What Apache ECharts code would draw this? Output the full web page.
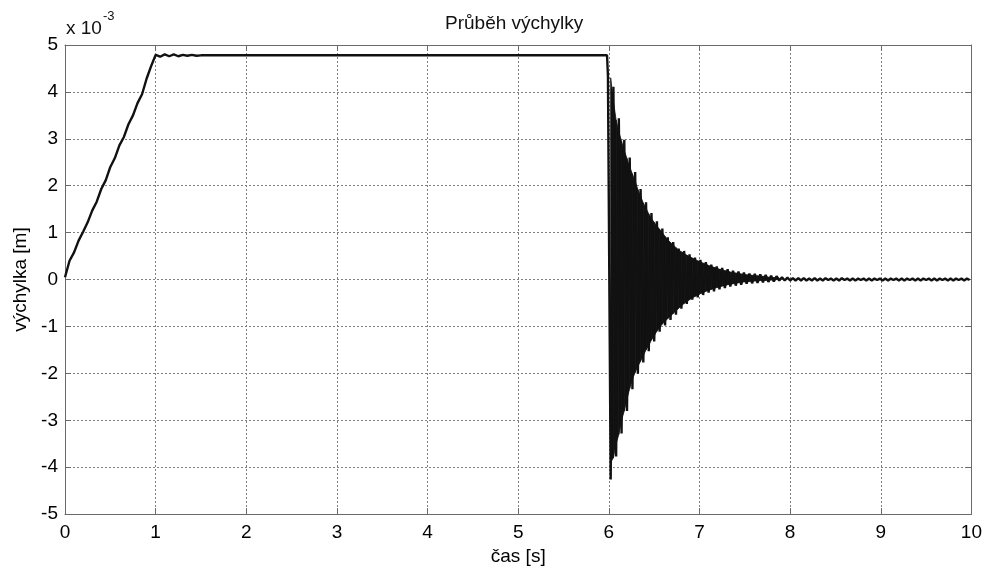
<!DOCTYPE html>
<html>
<head>
<meta charset="utf-8">
<script src="https://cdn.jsdelivr.net/npm/echarts@6/dist/echarts.min.js"></script>
<style>
html,body{margin:0;padding:0;background:#fff;}
#chart{width:985px;height:571px;}
</style>
</head>
<body>
<div id="chart"></div>
<script>
// ---- data (values in units of 1e-3 m) ----
const titleText = 'Průběh výchylky';
const xName = 'čas [s]';
const yName = 'výchylka [m]';
const xTicks = [0,1,2,3,4,5,6,7,8,9,10];
const yTicks = [-5,-4,-3,-2,-1,0,1,2,3,4,5];

// ramp 0 .. 1.0 s, step 0.05 s
const rampStart = 0, rampStep = 0.05;
const rampValues = [0.05,0.40,0.58,0.83,1.02,1.22,1.47,1.66,1.93,2.12,2.40,2.59,2.86,3.04,3.31,3.50,3.76,3.95,4.28,4.55,4.79];

// settling wiggle 1.05 .. 1.45 s, step 0.05 s
const settleStart = 1.05, settleStep = 0.05;
const settleValues = [4.75,4.80,4.76,4.80,4.76,4.79,4.77,4.79,4.77];

// hold until the release
const holdTimes = [1.5, 5.98, 5.99];
const holdValues = [4.78, 4.78, 4.33];

// decaying oscillation, peaks every 0.03 s from 6.02 s
const decayStart = 6.02, decayStep = 0.03;
const decayValues = [
 -4.26,4.11,-3.77,3.44,-3.28,2.98,-2.80,2.60,-2.34,2.29,
 -2.01,1.93,-1.77,1.65,-1.53,1.42,-1.32,1.24,-1.11,1.09,
 -0.98,0.90,-0.86,0.80,-0.75,0.66,-0.62,0.61,-0.52,0.54,
 -0.43,0.47,-0.38,0.42,-0.33,0.37,-0.28,0.32,-0.25,0.28,
 -0.21,0.25,-0.18,0.22,-0.15,0.19,-0.13,0.17,-0.11,0.15,
 -0.09,0.13,-0.08,0.12,-0.07,0.11,-0.06,0.10,-0.05,0.08,
 -0.04,0.07,-0.02
];

// solid (unresolved fast oscillation) band, same time grid as decayValues
const bandUpper = [
 4.30,3.80,3.40,3.15,2.95,2.75,2.58,2.40,2.25,2.10,
 1.92,1.78,1.63,1.52,1.40,1.30,1.22,1.14,1.07,1.00,
 0.92,0.85,0.79,0.74,0.68,0.63,0.59,0.56,0.52,0.49,
 0.46,0.43,0.40,0.38,0.35,0.33,0.30,0.28,0.26,0.24,
 0.22,0.21,0.19,0.18,0.16,0.15,0.14,0.13,0.12,0.11,
 0.10,0.10,0.09,0.08,0.08,0.07,0.07,0.06,0.05,0.05,
 0.04,0.04,0.03
];
const bandLower = [
 -3.90,-3.80,-3.50,-3.30,-3.00,-2.80,-2.55,-2.32,-2.12,-1.98,
 -1.85,-1.74,-1.62,-1.50,-1.40,-1.29,-1.20,-1.10,-1.02,-0.95,
 -0.89,-0.83,-0.78,-0.72,-0.67,-0.61,-0.56,-0.51,-0.47,-0.43,
 -0.39,-0.36,-0.33,-0.30,-0.28,-0.25,-0.23,-0.21,-0.19,-0.17,
 -0.16,-0.14,-0.13,-0.11,-0.10,-0.09,-0.08,-0.07,-0.06,-0.05,
 -0.05,-0.04,-0.04,-0.03,-0.03,-0.02,-0.02,-0.02,-0.01,-0.01,
 -0.01,0.00,0.00
];

// residual ripple 7.91 .. 9.98 s, step 0.03 s
const tailStart = 7.91, tailStep = 0.03;
const tailValues = [
 0.05,-0.02,0.04,-0.02,0.03,-0.02,0.03,-0.02,0.03,-0.02,
 0.02,-0.02,0.03,-0.02,0.02,-0.02,0.03,-0.01,0.02,-0.02,
 0.02,-0.02,0.03,-0.01,0.02,-0.02,0.02,-0.02,0.02,-0.01,
 0.02,-0.02,0.02,-0.02,0.02,-0.01,0.02,-0.02,0.02,-0.02,
 0.02,-0.01,0.02,-0.02,0.02,-0.02,0.02,-0.01,0.02,-0.02,
 0.02,-0.02,0.02,-0.01,0.02,-0.02,0.02,-0.02,0.02,-0.01,
 0.02,-0.02,0.02,-0.02,0.02,-0.01,0.02,-0.02,0.02,-0.01
];

// ---- build series points ----
const points = [];
function tAt(start, step, i){ return +(start + i*step).toFixed(4); }
function addSeg(start, step, vals){ vals.forEach((v,i)=>points.push([tAt(start,step,i), v])); }
addSeg(rampStart, rampStep, rampValues);
addSeg(settleStart, settleStep, settleValues);
holdTimes.forEach((t,i)=>points.push([t, holdValues[i]]));
addSeg(decayStart, decayStep, decayValues);
addSeg(tailStart, tailStep, tailValues);

// band quads: [t0, lo0, hi0, t1, lo1, hi1]
const bandQuads = [];
for (let i = 0; i < bandUpper.length - 1; i++) {
  bandQuads.push([tAt(decayStart,decayStep,i), bandLower[i], bandUpper[i],
                  tAt(decayStart,decayStep,i+1), bandLower[i+1], bandUpper[i+1]]);
}

const FONT = '"Liberation Sans", Arial, Helvetica, sans-serif';
const frame = '#6a6a6a';
const gridLine = {show:true, lineStyle:{color:'#808080', width:1, type:[2,2]}};

const chart = echarts.init(document.getElementById('chart'), null, {renderer:'canvas'});
chart.setOption({
  backgroundColor:'#ffffff',
  animation:false,
  textStyle:{fontFamily:FONT},
  grid:{left:65, right:11, top:45, bottom:53, containLabel:false},
  xAxis:[{
    type:'value', min:xTicks[0], max:xTicks[xTicks.length-1], interval:1,
    name:xName, nameLocation:'middle', nameGap:31,
    nameTextStyle:{fontSize:19, color:'#000', fontFamily:FONT},
    axisLine:{show:true, onZero:false, lineStyle:{color:frame, width:1}},
    axisTick:{show:true, inside:true, length:6, lineStyle:{color:frame}},
    axisLabel:{fontSize:19, color:'#000', margin:9, fontFamily:FONT},
    splitLine:gridLine
  },{
    type:'value', position:'top', min:xTicks[0], max:xTicks[xTicks.length-1], interval:1,
    axisLine:{show:true, onZero:false, lineStyle:{color:frame, width:1}},
    axisTick:{show:true, inside:true, length:6, lineStyle:{color:frame}},
    axisLabel:{show:false}, splitLine:{show:false}
  }],
  yAxis:[{
    type:'value', min:yTicks[0], max:yTicks[yTicks.length-1], interval:1,
    name:yName, nameLocation:'middle', nameGap:35, nameRotate:90,
    nameTextStyle:{fontSize:19, color:'#000', fontFamily:FONT},
    axisLine:{show:true, onZero:false, lineStyle:{color:frame, width:1}},
    axisTick:{show:true, inside:true, length:6, lineStyle:{color:frame}},
    axisLabel:{fontSize:19, color:'#000', margin:7, fontFamily:FONT},
    splitLine:gridLine
  },{
    type:'value', position:'right', min:yTicks[0], max:yTicks[yTicks.length-1], interval:1,
    axisLine:{show:true, onZero:false, lineStyle:{color:frame, width:1}},
    axisTick:{show:true, inside:true, length:6, lineStyle:{color:frame}},
    axisLabel:{show:false}, splitLine:{show:false}
  }],
  graphic:[
    {type:'text', left:445, top:14, style:{text:titleText, font:'19px '+FONT, fill:'#111'}},
    {type:'text', left:66, top:19, style:{text:'x 10', font:'19px '+FONT, fill:'#111'}},
    {type:'text', left:103, top:10, style:{text:'-3', font:'13px '+FONT, fill:'#111'}}
  ],
  series:[{
    type:'custom', data:bandQuads, silent:true, z:2,
    encode:{x:[0,3], y:[1,2,4,5]},
    renderItem:function(params, api){
      const a = api.coord([api.value(0), api.value(1)]);
      const b = api.coord([api.value(3), api.value(4)]);
      const c = api.coord([api.value(3), api.value(5)]);
      const d = api.coord([api.value(0), api.value(2)]);
      return {type:'polygon', shape:{points:[a,b,c,d]},
              style:{fill:'#111', stroke:'#111', lineWidth:0.8}};
    }
  },{
    type:'line', data:points, showSymbol:false, symbol:'none',
    lineStyle:{color:'#111', width:2.4}, z:3, clip:true
  }]
});
</script>
</body>
</html>
